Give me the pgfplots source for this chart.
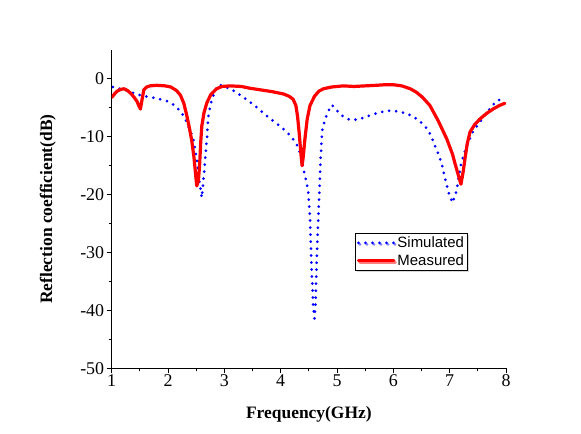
\documentclass[border=0pt]{standalone}
\usepackage{fontspec}
\setmainfont{Liberation Serif}
\newfontfamily\legfont{Liberation Sans}
\usepackage{pgfplots}
\pgfplotsset{compat=1.18}
\usetikzlibrary{shadows}
\begin{document}
\begin{tikzpicture}
\begin{axis}[
  scale only axis,
  width=394.3bp, height=318.3bp,
  xmin=1, xmax=8, ymin=-50, ymax=5,
  axis x line*=bottom, axis y line*=left,
  axis line style={line width=1.2bp},
  xtick={1,2,...,8}, ytick={-50,-40,...,0},
  minor x tick num=1, minor y tick num=1,
  tick align=outside,
  major tick length=5bp, minor tick length=3bp,
  tick style={line width=1bp, black},
  /pgf/number format/assume math mode=true,
  ticklabel style={font=\fontsize{18}{20}\selectfont},
  xticklabel style={yshift=2bp},
  yticklabel style={xshift=1bp},
  xlabel={\textbf{Frequency(GHz)}},
  ylabel={\textbf{Reflection coefficient(dB)}},
  xlabel style={font=\fontsize{17.5}{20}\selectfont, at={(axis description cs:0.5,-0.145)}, anchor=center},
  ylabel style={font=\fontsize{17.5}{20}\selectfont, at={(axis description cs:-0.162,0.5)}, anchor=center, rotate=0},
  legend style={at={(axis cs:5.32,-26.6)}, anchor=north west, font=\legfont\fontsize{15}{16}\selectfont,
    draw=black, line width=0.6bp, inner sep=1.5bp, row sep=1.5bp, drop shadow={shadow xshift=1.5bp, shadow yshift=-1.5bp, fill=gray!60}, fill=white},
  legend cell align=left,
  legend image code/.code={\draw[#1] (0cm,0cm) -- (1.25cm,0cm);},
]
\addplot[blue, line width=3bp, line cap=round, dash pattern=on 0pt off 7bp] coordinates {
(1.02,-1.4) (1.15,-1.7) (1.26,-2.0) (1.38,-2.4) (1.50,-2.8) (1.65,-3.1) (1.77,-3.3) (1.90,-3.6)
(2.00,-3.9) (2.12,-4.6) (2.24,-5.8) (2.32,-7.2) (2.38,-8.6) (2.45,-10.4) (2.51,-13.9) (2.56,-17.9)
(2.60,-20.5) (2.64,-16.2) (2.67,-12.5) (2.69,-10.4) (2.71,-6.9) (2.75,-4.6) (2.78,-3.5) (2.84,-1.9)
(2.91,-1.0) (3.00,-1.3) (3.16,-2.0) (3.30,-2.9) (3.43,-3.8) (3.54,-4.6) (3.66,-5.6) (3.78,-6.6)
(3.90,-7.5) (4.02,-8.4) (4.17,-9.8) (4.25,-10.8) (4.31,-11.8) (4.36,-13.3) (4.40,-15.3) (4.45,-17.5)
(4.49,-19.5) (4.52,-24) (4.55,-33) (4.58,-39.5) (4.60,-41.4) (4.62,-38.5) (4.64,-31) (4.66,-26)
(4.68,-21) (4.70,-16) (4.72,-11.5) (4.74,-8.8) (4.79,-6.9) (4.85,-5.5) (4.91,-4.5) (5.00,-5.5)
(5.10,-6.4) (5.23,-7.1) (5.38,-7.0) (5.50,-6.6) (5.62,-6.2) (5.75,-5.8) (5.88,-5.5) (6.00,-5.5)
(6.12,-5.7) (6.24,-6.0) (6.35,-6.5) (6.47,-7.3) (6.59,-8.5) (6.67,-9.8) (6.74,-11.6) (6.80,-13.0)
(6.86,-14.7) (6.92,-17.3) (6.98,-19.6) (7.05,-21.4) (7.12,-19.4) (7.16,-17.0) (7.21,-14.4) (7.30,-11.6)
(7.42,-9.0) (7.51,-7.8) (7.60,-6.6) (7.72,-5.1) (7.83,-3.8) (7.98,-3.3)
};
\addlegendentry{Simulated}
\addplot[red, line width=3.2bp, line join=round, line cap=round] coordinates {
(1.00,-3.2) (1.05,-2.6) (1.10,-2.1) (1.16,-1.8) (1.22,-1.7) (1.28,-2.0) (1.34,-2.5) (1.40,-3.2)
(1.45,-3.9) (1.48,-4.6) (1.51,-5.2) (1.54,-3.5) (1.57,-1.9) (1.62,-1.4) (1.68,-1.2) (1.80,-1.1)
(1.95,-1.2) (2.05,-1.4) (2.15,-2.0) (2.22,-2.8) (2.28,-4.2) (2.33,-6.2) (2.38,-8.5) (2.42,-10.6)
(2.46,-13.5) (2.49,-16.5) (2.51,-18.5) (2.54,-17.5) (2.56,-15) (2.58,-11) (2.60,-8.1) (2.64,-5.8)
(2.69,-4.1) (2.76,-2.7) (2.86,-1.7) (2.96,-1.3) (3.10,-1.2) (3.30,-1.3) (3.45,-1.6) (3.65,-1.9)
(3.85,-2.2) (4.05,-2.6) (4.15,-3.0) (4.22,-3.5) (4.27,-4.6) (4.30,-6.5) (4.33,-9.5) (4.36,-13)
(4.38,-15) (4.40,-13.5) (4.43,-10.4) (4.47,-7.0) (4.52,-4.6) (4.60,-3.0) (4.68,-2.1) (4.76,-1.7)
(4.90,-1.4) (5.11,-1.2) (5.30,-1.3) (5.50,-1.2) (5.70,-1.1) (5.85,-1.0) (6.00,-1.0) (6.15,-1.2)
(6.30,-1.7) (6.41,-2.3) (6.52,-3.2) (6.65,-4.6) (6.80,-7.3) (6.95,-10.4) (7.05,-13.0) (7.10,-14.8)
(7.15,-16.5) (7.20,-18.2) (7.24,-16.0) (7.27,-13.9) (7.31,-11.3) (7.36,-9.2) (7.45,-7.8) (7.54,-6.9)
(7.65,-6.0) (7.77,-5.2) (7.88,-4.6) (7.98,-4.2)
};
\addlegendentry{Measured}
\end{axis}
\path ([xshift=-111.7bp,yshift=-65.7bp]current axis.south west) rectangle ([xshift=75bp,yshift=50bp]current axis.north east);
\end{tikzpicture}
\end{document}
